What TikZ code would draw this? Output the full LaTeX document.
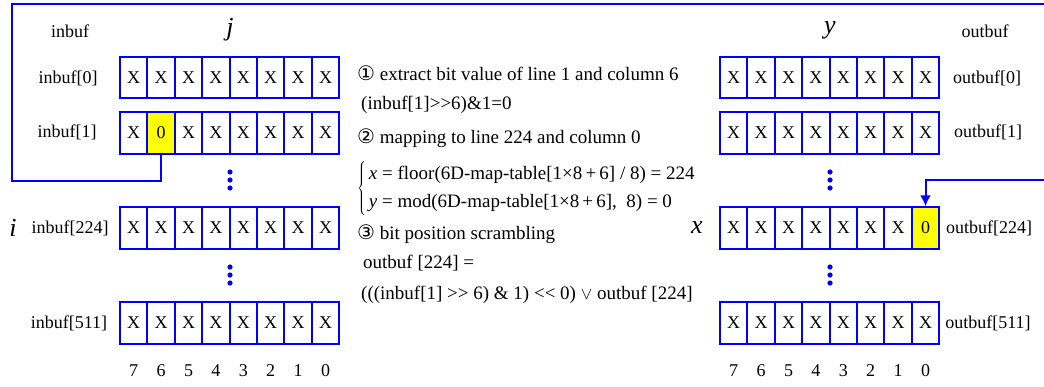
\documentclass[tikz,border=0pt]{standalone}
\usepackage{fontspec}
\setmainfont{Liberation Serif}
\newfontfamily\symfont{DejaVu Sans}
\usepackage{tikz}
\usetikzlibrary{arrows.meta,positioning,calc}
\definecolor{bufblue}{RGB}{0,0,255}
\definecolor{hitbit}{RGB}{255,255,0}
\newcommand{\cnum}[1]{{\symfont\fontsize{20}{22}\selectfont #1}}

\begin{document}
\begin{tikzpicture}[x=1pt, y=-1pt, >=Latex,
  cell/.style={draw=bufblue, line width=2pt, fill=white, minimum width=27.4pt, minimum height=41.5pt,
    inner sep=0pt, font=\fontsize{18}{20}\selectfont, /utils/exec={\def\bitval{X}}},
  hot/.style={fill=hitbit, /utils/exec={\def\bitval{0}}},
  in-1-6/.style={hot},
  out-224-0/.style={hot},
  lbl/.style={inner sep=0pt, font=\fontsize{18}{20}\selectfont},
  idx/.style={inner sep=0pt, font=\fontsize{26}{28}\selectfont\itshape},
  txt/.style={inner sep=0pt, anchor=west, font=\rmfamily\fontsize{19}{22}\selectfont},
  link/.style={draw=bufblue, line width=2pt}]
  \useasboundingbox (0,0) rectangle (1044,386);

  % input and output buffers
  \foreach \r/\ry in {0/77.5,1/133,224/228,511/323} {
    \foreach \b in {7,...,0} {
      \pgfmathsetmacro{\cx}{120+(7.5-\b)*27.4}
      \node[cell, in-\r-\b/.try] (in-\r-\b) at (\cx,\ry) {\bitval};
      \node[cell, out-\r-\b/.try] (out-\r-\b) at (\cx+600,\ry) {\bitval};
    }
  }

  % row and column labels
  \node[lbl] (inbuf) at (70,31) {inbuf};
  \node[idx] (j) at (230,30) {j};
  \node[lbl] (in0) at (68,78) {inbuf[0]};
  \node[lbl] (in1) at (67,132) {inbuf[1]};
  \node[idx] (i) at (13,228) {i};
  \node[lbl] (in224) at (70,228) {inbuf[224]};
  \node[lbl] (in511) at (69,323) {inbuf[511]};

  \node[lbl] (outbuf) at (985,31) {outbuf};
  \node[idx] (y) at (830,30) {y};
  \node[lbl] (out0) at (987,78) {outbuf[0]};
  \node[lbl] (out1) at (988,132) {outbuf[1]};
  \node[idx] (x) at (697,228) {x};
  \node[lbl] (out224) at (989,228) {outbuf[224]};
  \node[lbl] (out511) at (988,323) {outbuf[511]};

  \foreach \b in {7,...,0} {
    \pgfmathsetmacro{\cx}{120+(7.5-\b)*27.4}
    \node[lbl] (inbit\b) at (\cx,371) {\b};
    \node[lbl] (outbit\b) at (\cx+600,371) {\b};
  }

  % vertical dots
  \foreach \dx in {230,830}
    \foreach \dy in {172,180,188,267,275,283}
      \fill[bufblue] (\dx,\dy) circle (2.6);

  % steps
  \node[txt] (step1) at (357,73) {\cnum{①} extract bit value of line 1 and column 6};
  \node[txt] (get1) at (361,105) {(inbuf[1]>{}>6)\&1=0};
  \node[txt] (step2) at (357,138) {\cnum{②} mapping to line 224 and column 0};
  \node[txt] (map) at (357,188) {\renewcommand{\arraystretch}{1.25}$\left\{\,\begin{tabular}{@{}l@{}}\textit{x} = floor(6D-map-table[1×8\,+\,6] / 8) = 224\\
    \textit{y} = mod(6D-map-table[1×8\,+\,6], \ 8) = 0\end{tabular}\right.$};
  \node[txt] (step3) at (357,234) {\cnum{③} bit position scrambling};
  \node[txt] (put1) at (363,263) {outbuf [224] =};
  \node[txt] (put2) at (361,295) {(((inbuf[1] >{}> 6) \& 1) <{}< 0) $\vee$ outbuf [224]};

  % moving the bit
  \coordinate (c1) at (12,181);
  \coordinate (c2) at (12,4);
  \coordinate (c3) at (1050,4);
  \coordinate (c4) at (1050,180);
  \draw[link, -{Latex[length=11pt,width=11pt]}] (in-1-6.south) |- (c1) -- (c2) -- (c3) -- (c4) -| (out-224-0.north);
\end{tikzpicture}
\end{document}
